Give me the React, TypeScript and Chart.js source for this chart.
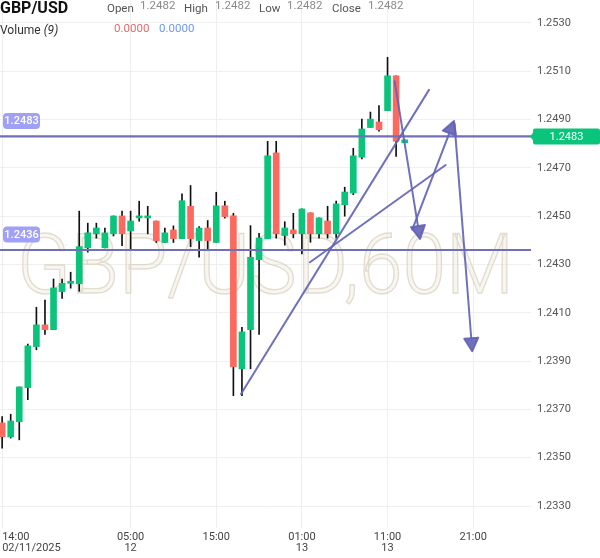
import React, { useEffect, useRef } from 'react';
import { Chart, registerables } from 'chart.js';

Chart.register(...registerables);

const SYMBOL = 'GBP/USD';
const WATERMARK = 'GBP/USD,60M';

// hours since 14:00 02/11/2025 (one candle per hour)
const hours = [0, 1, 2, 3, 4, 5, 6, 7, 8, 9, 10, 11, 12, 13, 14, 15, 16, 17, 18, 19, 20, 21, 22, 23,
  24, 25, 26, 27, 28, 29, 30, 31, 32, 33, 34, 35, 36, 37, 38, 39, 40, 41, 42, 43, 44, 45, 46, 47];
const opens = [1.23644, 1.23586, 1.23649, 1.23790, 1.23960, 1.24050, 1.24030, 1.24188, 1.24222, 1.24220,
  1.24369, 1.24427, 1.24369, 1.24427, 1.24501, 1.24439, 1.24493, 1.24493, 1.24480, 1.24391,
  1.24443, 1.24407, 1.24541, 1.24399, 1.24451, 1.24391, 1.24543, 1.24501, 1.23868, 1.24030,
  1.24320, 1.24407, 1.24762, 1.24420, 1.24443, 1.24427, 1.24514, 1.24427, 1.24480, 1.24427,
  1.24547, 1.24596, 1.24744, 1.24867, 1.24890, 1.24937, 1.25081, 1.24804];
const highs = [1.23670, 1.23680, 1.23793, 1.23970, 1.24123, 1.24153, 1.24240, 1.24240, 1.24268, 1.24521,
  1.24471, 1.24471, 1.24451, 1.24501, 1.24521, 1.24521, 1.24562, 1.24541, 1.24480, 1.24451,
  1.24460, 1.24592, 1.24627, 1.24457, 1.24482, 1.24599, 1.24562, 1.24512, 1.24040, 1.24461,
  1.24429, 1.24810, 1.24810, 1.24477, 1.24512, 1.24530, 1.24514, 1.24493, 1.24541, 1.24562,
  1.24620, 1.24781, 1.24902, 1.24931, 1.24958, 1.25158, 1.25081, 1.24816];
const lows = [1.23540, 1.23581, 1.23574, 1.23740, 1.23947, 1.24010, 1.24030, 1.24160, 1.24202, 1.24189,
  1.24351, 1.24409, 1.24369, 1.24418, 1.24378, 1.24359, 1.24479, 1.24427, 1.24391, 1.24391,
  1.24391, 1.24407, 1.24374, 1.24330, 1.24357, 1.24391, 1.24492, 1.23757, 1.23757, 1.23868,
  1.24010, 1.24407, 1.24409, 1.24380, 1.24410, 1.24344, 1.24392, 1.24409, 1.24409, 1.24409,
  1.24500, 1.24589, 1.24737, 1.24867, 1.24852, 1.24937, 1.24747, 1.24804];
const closes = [1.23587, 1.23652, 1.23793, 1.23963, 1.24050, 1.24030, 1.24203, 1.24222, 1.24222, 1.24374,
  1.24431, 1.24451, 1.24431, 1.24501, 1.24427, 1.24480, 1.24493, 1.24493, 1.24398, 1.24431,
  1.24407, 1.24564, 1.24407, 1.24451, 1.24399, 1.24543, 1.24498, 1.23877, 1.24021, 1.24330,
  1.24410, 1.24750, 1.24427, 1.24451, 1.24427, 1.24530, 1.24427, 1.24493, 1.24427, 1.24551,
  1.24600, 1.24750, 1.24861, 1.24902, 1.24858, 1.25081, 1.24810, 1.24816];

const xTickValues = [0, 15, 25, 35, 45, 55];
const xTickLabels = [['14:00', '02/11/2025'], ['05:00', '12'], ['15:00'], ['01:00', '13'], ['11:00', '13'], ['21:00']];
const xRange = [-0.25, 61.75];

const yTickValues = [1.2330, 1.2350, 1.2370, 1.2390, 1.2410, 1.2430, 1.2450, 1.2470, 1.2490, 1.2510, 1.2530];
const yRange = [1.23209, 1.25395];

const levels = [1.2483, 1.2436];
const lastPrice = 1.2483;

// drawing tools: [hourStart, priceStart, hourEnd, priceEnd]
const trendLines = [
  [27.89, 1.23764, 49.84, 1.25023],
  [35.94, 1.24309, 51.79, 1.24712],
];
const arrowLines = [
  [45.83, 1.25059, 48.79, 1.24406],
  [47.89, 1.24444, 52.76, 1.24894],
  [52.82, 1.24882, 54.89, 1.23941],
];

const headerFields = [['Open', '1.2482', 107, 140], ['High', '1.2482', 184, 215], ['Low', '1.2482', 259, 287], ['Close', '1.2482', 332, 368]];
const volumeValues = ['0.0000', '0.0000'];

const GREEN = '#0ac47b';
const RED = '#fc6a5f';
const LEVEL = '#7070b9';
const TOOL = 'rgba(100,100,182,0.92)';
const PILL = '#a0a0f7';

const overlayPlugin = {
  id: 'overlay',
  beforeDatasetsDraw(chart: any) {
    const { ctx, chartArea } = chart;
    const { left, right, top, bottom } = chartArea;
    ctx.save();
    ctx.beginPath();
    ctx.rect(left, top, right - left, bottom - top);
    ctx.clip();
    const size = 83;
    ctx.font = `300 ${size}px Roboto`;
    ctx.textAlign = 'center';
    ctx.textBaseline = 'alphabetic';
    const cx = (left + right) / 2;
    const by = (top + bottom) / 2 + size * 0.355;
    ctx.translate(cx, by);
    ctx.scale(0.945, 1);
    ctx.fillStyle = 'rgba(240,236,226,0.45)';
    ctx.fillText(WATERMARK, 0, 0);
    ctx.lineWidth = 1.4;
    ctx.strokeStyle = 'rgba(214,206,184,0.65)';
    ctx.strokeText(WATERMARK, 0, 0);
    ctx.restore();
  },
  afterDatasetsDraw(chart: any) {
    const { ctx, chartArea, scales } = chart;
    const { left, right, top, bottom } = chartArea;
    const xs = scales.x;
    const ys = scales.y;
    ctx.save();
    ctx.beginPath();
    ctx.rect(left, top, right - left, bottom - top);
    ctx.clip();
    // horizontal levels
    ctx.strokeStyle = LEVEL;
    ctx.lineWidth = 2.2;
    levels.forEach((v) => {
      const py = ys.getPixelForValue(v);
      ctx.beginPath();
      ctx.moveTo(left, py);
      ctx.lineTo(right, py);
      ctx.stroke();
    });
    // trend lines
    ctx.strokeStyle = TOOL;
    ctx.lineWidth = 2;
    ctx.lineCap = 'round';
    trendLines.forEach(([h1, p1, h2, p2]) => {
      ctx.beginPath();
      ctx.moveTo(xs.getPixelForValue(h1), ys.getPixelForValue(p1));
      ctx.lineTo(xs.getPixelForValue(h2), ys.getPixelForValue(p2));
      ctx.stroke();
    });
    // arrows
    ctx.fillStyle = TOOL;
    arrowLines.forEach(([h1, p1, h2, p2]) => {
      const x1 = xs.getPixelForValue(h1);
      const y1 = ys.getPixelForValue(p1);
      const x2 = xs.getPixelForValue(h2);
      const y2 = ys.getPixelForValue(p2);
      const len = Math.hypot(x2 - x1, y2 - y1);
      const dx = (x2 - x1) / len;
      const dy = (y2 - y1) / len;
      const L = 13;
      const W = 7;
      const bx = x2 - dx * L;
      const byy = y2 - dy * L;
      ctx.beginPath();
      ctx.moveTo(x1, y1);
      ctx.lineTo(bx, byy);
      ctx.stroke();
      ctx.beginPath();
      ctx.moveTo(x2, y2);
      ctx.lineTo(bx - dy * W, byy + dx * W);
      ctx.lineTo(bx + dy * W, byy - dx * W);
      ctx.closePath();
      ctx.fill();
      ctx.lineJoin = 'round';
      ctx.stroke();
    });
    // level pills
    ctx.font = '500 11px Roboto';
    ctx.textAlign = 'center';
    ctx.textBaseline = 'middle';
    levels.forEach((v) => {
      const py = ys.getPixelForValue(v) - 15.5;
      ctx.fillStyle = PILL;
      ctx.beginPath();
      ctx.roundRect(left + 3, py - 8, 37, 16, 4);
      ctx.fill();
      ctx.fillStyle = '#ffffff';
      ctx.fillText(v.toFixed(4), left + 21.5, py + 0.5);
    });
    ctx.restore();
  },
  afterDraw(chart: any) {
    const { ctx, chartArea, scales } = chart;
    const { right } = chartArea;
    const py = scales.y.getPixelForValue(lastPrice);
    ctx.save();
    ctx.fillStyle = GREEN;
    ctx.beginPath();
    ctx.moveTo(right - 1, py);
    ctx.lineTo(right + 3, py - 5);
    ctx.lineTo(right + 3, py + 5);
    ctx.closePath();
    ctx.fill();
    ctx.beginPath();
    ctx.roundRect(right + 2, py - 8, 67, 16, 2);
    ctx.fill();
    ctx.fillStyle = '#ffffff';
    ctx.font = '11px Roboto';
    ctx.textAlign = 'center';
    ctx.textBaseline = 'middle';
    ctx.fillText(lastPrice.toFixed(4), right + 35.5, py + 0.5);
    ctx.restore();
  },
};

export default function App() {
  const ref = useRef<HTMLCanvasElement>(null);

  useEffect(() => {
    const canvas = ref.current;
    if (!canvas) return;
    const colors = closes.map((c, i) => (c >= opens[i] ? GREEN : RED));
    const chart = new Chart(canvas, {
      type: 'bar',
      data: {
        datasets: [
          {
            label: 'wick',
            data: hours.map((h, i) => ({ x: h, y: [lows[i], highs[i]] })),
            backgroundColor: '#111111',
            barThickness: 1,
            grouped: false,
            order: 2,
            minBarLength: 1,
          } as any,
          {
            label: 'body',
            data: hours.map((h, i) => ({ x: h, y: [opens[i], closes[i]] })),
            backgroundColor: colors,
            barThickness: 6,
            grouped: false,
            order: 1,
            minBarLength: 2,
          } as any,
        ],
      },
      options: {
        animation: false,
        responsive: false,
        devicePixelRatio: 1,
        layout: { padding: 0 },
        plugins: { legend: { display: false }, tooltip: { enabled: false } },
        scales: {
          x: {
            type: 'linear',
            min: xRange[0],
            max: xRange[1],
            offset: false,
            afterBuildTicks: (s: any) => {
              s.ticks = [...xTickValues, xRange[1]].map((v) => ({ value: v }));
            },
            afterFit: (s: any) => {
              s.height = 30;
              s.paddingLeft = 0;
              s.paddingRight = 0;
            },
            grid: {
              offset: false,
              color: (c: any) => (c.tick && c.tick.value > 60 ? 'rgba(0,0,0,0)' : '#efefef'),
              drawTicks: false,
            },
            border: { display: false },
            ticks: {
              autoSkip: false,
              maxRotation: 0,
              minRotation: 0,
              align: 'inner',
              padding: 4,
              color: '#444',
              font: { size: 11, family: 'Roboto', lineHeight: 1 },
              callback: (v: any) => {
                const i = xTickValues.indexOf(Number(v));
                return i >= 0 ? xTickLabels[i] : '';
              },
            },
          } as any,
          y: {
            type: 'linear',
            position: 'right',
            min: yRange[0],
            max: yRange[1],
            afterBuildTicks: (s: any) => {
              s.ticks = yTickValues.map((v) => ({ value: v }));
            },
            afterFit: (s: any) => {
              s.width = 69;
              s.paddingTop = 0;
              s.paddingBottom = 0;
            },
            grid: { color: '#efefef', drawTicks: false },
            border: { display: false },
            ticks: {
              padding: 6,
              color: '#555',
              font: { size: 11, family: 'Roboto' },
              callback: (v: any) => Number(v).toFixed(4),
            },
          } as any,
        },
      },
      plugins: [overlayPlugin as any],
    });
    return () => chart.destroy();
  }, []);

  const base: React.CSSProperties = { position: 'absolute', whiteSpace: 'nowrap', fontFamily: 'Roboto, sans-serif' };

  return (
    <div style={{ position: 'absolute', left: 0, top: 0, width: 600, height: 558, background: '#fff', overflow: 'hidden' }}>
      <canvas ref={ref} width={600} height={558} style={{ display: 'block', width: 600, height: 558 }} />
      <span style={{ ...base, left: 0, top: 0, fontSize: 16, lineHeight: '16px', fontWeight: 700, color: '#111' }}>{SYMBOL}</span>
      {headerFields.map(([label, value, lx, vx]) => (
        <React.Fragment key={label as string}>
          <span style={{ ...base, left: lx as number, top: 3.3, fontSize: 11.5, lineHeight: '11.5px', color: '#555' }}>{label}</span>
          <span style={{ ...base, left: vx as number, top: 0.3, fontSize: 11.5, lineHeight: '11.5px', color: '#8a8a8a' }}>{value}</span>
        </React.Fragment>
      ))}
      <span style={{ ...base, left: 0, top: 23.9, fontSize: 12, lineHeight: '12px', color: '#333' }}>
        Volume <i>(9)</i>
      </span>
      <span style={{ ...base, left: 114, top: 23.3, fontSize: 11.5, lineHeight: '11.5px', color: '#e36b6b' }}>{volumeValues[0]}</span>
      <span style={{ ...base, left: 159, top: 23.3, fontSize: 11.5, lineHeight: '11.5px', color: '#6e98f2' }}>{volumeValues[1]}</span>
    </div>
  );
}
